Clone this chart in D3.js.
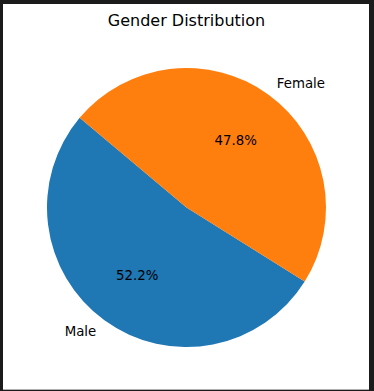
<!DOCTYPE html>
<html>
<head>
<meta charset="utf-8">
<script src="https://cdn.jsdelivr.net/npm/d3@7"></script>
<style>
  html, body { margin: 0; padding: 0; background: #1b1b1b; }
  svg { display: block; }
</style>
</head>
<body>
<div id="chart"></div>
<script>
const categories = ['Male', 'Female'];
const values = [52.2, 47.8];
const colors = ['#1f77b4', '#ff7f0e'];

const width = 374, height = 391;
const cx = 186.5, cy = 207.5, radius = 139.5;
// matplotlib startangle=140, counterclockwise
const start = (90 - 140) * Math.PI / 180;

const svg = d3.select('#chart')
  .append('svg')
  .attr('width', width)
  .attr('height', height);

// frame: dark edges, white figure, grey line at bottom
svg.append('rect')
  .attr('x', 0).attr('y', 0)
  .attr('width', width).attr('height', height)
  .attr('fill', '#1b1b1b');
svg.append('rect')
  .attr('x', 3).attr('y', 4)
  .attr('width', 366).attr('height', 386)
  .attr('fill', '#ffffff');
svg.append('rect')
  .attr('x', 3).attr('y', 389)
  .attr('width', 366).attr('height', 1)
  .attr('fill', '#b0b0b0');

svg.append('text')
  .attr('x', cx)
  .attr('y', 26)
  .attr('text-anchor', 'middle')
  .style('font-family', 'DejaVu Sans')
  .style('font-size', '16px')
  .attr('fill', '#000')
  .text('Gender Distribution');

const pie = d3.pie()
  .sort(null)
  .value(d => d)
  .startAngle(start)
  .endAngle(start - 2 * Math.PI);

const arcs = pie(values);
const arc = d3.arc().innerRadius(0).outerRadius(radius);

const g = svg.append('g').attr('transform', `translate(${cx},${cy})`);

g.selectAll('path')
  .data(arcs)
  .enter()
  .append('path')
  .attr('d', arc)
  .attr('fill', (d, i) => colors[i]);

const mid = d => (d.startAngle + d.endAngle) / 2;

// category labels at 1.1 * radius
g.selectAll('text.label')
  .data(arcs)
  .enter()
  .append('text')
  .attr('class', 'label')
  .attr('x', d => Math.sin(mid(d)) * radius * 1.1)
  .attr('y', d => -Math.cos(mid(d)) * radius * 1.1)
  .attr('dy', '0.35em')
  .attr('text-anchor', d => Math.sin(mid(d)) < 0 ? 'end' : 'start')
  .style('font-family', 'DejaVu Sans')
  .style('font-size', '13.33px')
  .attr('fill', '#000')
  .text((d, i) => categories[i]);

// percentages at 0.6 * radius
g.selectAll('text.pct')
  .data(arcs)
  .enter()
  .append('text')
  .attr('class', 'pct')
  .attr('x', d => Math.sin(mid(d)) * radius * 0.6)
  .attr('y', d => -Math.cos(mid(d)) * radius * 0.6)
  .attr('dy', '0.35em')
  .attr('text-anchor', 'middle')
  .style('font-family', 'DejaVu Sans')
  .style('font-size', '13.33px')
  .attr('fill', '#000')
  .text(d => d.value.toFixed(1) + '%');
</script>
</body>
</html>
